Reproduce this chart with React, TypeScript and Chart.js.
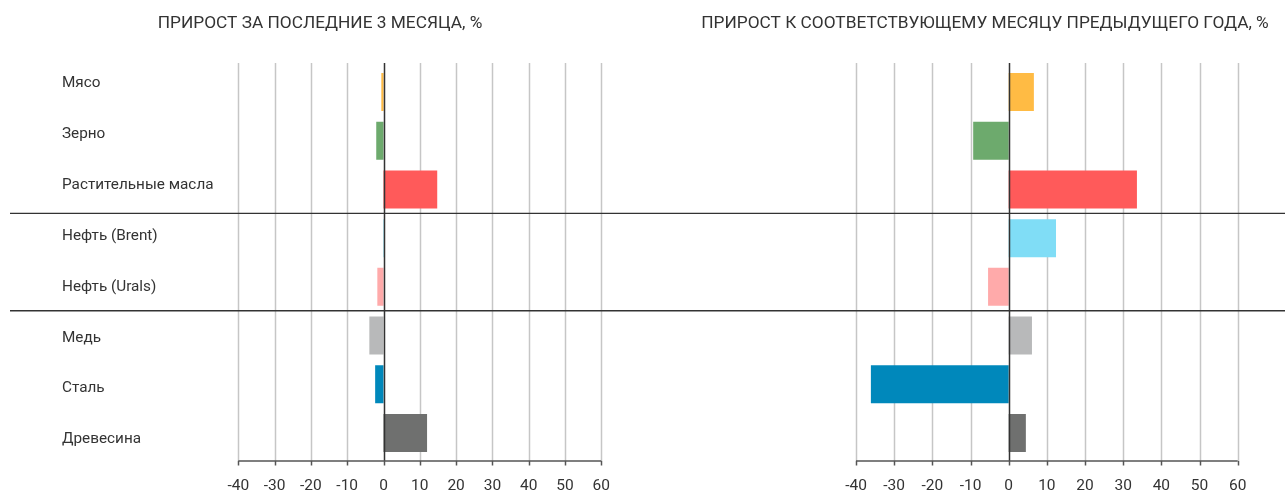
import React, { useEffect, useRef } from 'react';
import { Chart, registerables } from 'chart.js';

Chart.register(...registerables);

const categories = [
  'Мясо',
  'Зерно',
  'Растительные масла',
  'Нефть (Brent)',
  'Нефть (Urals)',
  'Медь',
  'Сталь',
  'Древесина',
];
const threeMonthGrowth = [-0.6, -2.0, 14.8, 0.4, -1.7, -3.9, -2.3, 12.0];
const yearOverYearGrowth = [6.6, -9.3, 33.6, 12.4, -5.4, 6.1, -36.1, 4.5];
const barColors = ['#FFBB44', '#6DAA6D', '#FF5A5A', '#80DDF6', '#FFAAAA', '#B8B9BA', '#0088BB', '#6F706F'];
const xMin = -40;
const xMax = 60;
const xStep = 10;
const leftTitle = 'ПРИРОСТ ЗА ПОСЛЕДНИЕ 3 МЕСЯЦА, %';
const rightTitle = 'ПРИРОСТ К СООТВЕТСТВУЮЩЕМУ МЕСЯЦУ ПРЕДЫДУЩЕГО ГОДА, %';
const groupBreaks = [2, 4];

const FONT = 'Roboto, "Noto Sans", sans-serif';
const TEXT = '#333333';
const W = 1285;
const H = 493;
const LABEL_MIN = -0.313;
const LABEL_MAX = 7.352;

type PanelCfg = {
  left: number;
  width: number;
  values: number[];
  title: string;
  titleX: number;
  showLabels: boolean;
  padLeft: number;
  padRight: number;
  sepStart: number;
};

const decorPlugin = {
  id: 'decor',
  beforeDatasetsDraw(chart: any) {
    const { ctx, chartArea, scales } = chart;
    const x = scales.x;
    const top = chartArea.top - 4.5;
    const bottom = chartArea.bottom + 3.6;
    ctx.save();
    ctx.strokeStyle = '#C6C6C6';
    ctx.lineWidth = 1.5;
    x.ticks.forEach((t: any) => {
      if (t.value === 0) return;
      const px = Math.round(x.getPixelForValue(t.value)) + 0.5;
      ctx.beginPath();
      ctx.moveTo(px, top);
      ctx.lineTo(px, bottom);
      ctx.stroke();
    });
    ctx.restore();
  },
  afterDatasetsDraw(chart: any, _args: any, opts: any) {
    const { ctx, chartArea, scales, width } = chart;
    const x = scales.x;
    const y = scales.y;
    const top = chartArea.top - 4.5;
    const bottom = chartArea.bottom + 3.6;
    ctx.save();
    ctx.strokeStyle = '#333333';
    ctx.lineWidth = 1.5;
    const zx = Math.round(x.getPixelForValue(0)) + 0.5;
    ctx.beginPath();
    ctx.moveTo(zx, top);
    ctx.lineTo(zx, bottom);
    ctx.stroke();
    ctx.strokeStyle = '#555555';
    ctx.beginPath();
    ctx.moveTo(x.getPixelForValue(xMin), bottom);
    ctx.lineTo(x.getPixelForValue(xMax), bottom);
    ctx.stroke();
    x.ticks.forEach((t: any) => {
      const px = Math.round(x.getPixelForValue(t.value)) + 0.5;
      ctx.beginPath();
      ctx.moveTo(px, bottom);
      ctx.lineTo(px, bottom + 4.5);
      ctx.stroke();
    });
    ctx.strokeStyle = '#333333';
    ctx.lineWidth = 1.3;
    groupBreaks.forEach((i) => {
      const sy = (y.getPixelForValue(i) + y.getPixelForValue(i + 1)) / 2 - 0.5;
      ctx.beginPath();
      ctx.moveTo(opts.sepStart, sy);
      ctx.lineTo(width, sy);
      ctx.stroke();
    });
    ctx.fillStyle = TEXT;
    ctx.font = `17.3px ${FONT}`;
    ctx.textAlign = 'center';
    ctx.textBaseline = 'alphabetic';
    ctx.fillText(opts.title, opts.titleX, 28);
    ctx.restore();
  },
};

function Panel({ cfg }: { cfg: PanelCfg }) {
  const ref = useRef<HTMLCanvasElement | null>(null);
  useEffect(() => {
    if (!ref.current) return;
    const scalesCfg: any = {
      x: {
        type: 'linear',
        min: xMin,
        max: xMax,
        grid: { display: false },
        border: { display: false },
        ticks: {
          stepSize: xStep,
          color: TEXT,
          font: { family: FONT, size: 15.5 },
          padding: 11,
        },
        afterFit: (axis: any) => {
          axis.height = 35.6;
        },
      },
      y: {
        type: 'category',
        labels: categories,
        display: false,
        grid: { display: false },
      },
    };
    if (cfg.showLabels) {
      scalesCfg.yLabels = {
        type: 'linear',
        position: 'left',
        reverse: true,
        offset: false,
        bounds: 'data',
        min: LABEL_MIN,
        max: LABEL_MAX,
        grid: { display: false, offset: false },
        border: { display: false },
        afterDataLimits: (axis: any) => {
          axis.min = LABEL_MIN;
          axis.max = LABEL_MAX;
        },
        afterBuildTicks: (axis: any) => {
          axis.ticks = categories.map((_, i) => ({ value: i }));
        },
        afterFit: (axis: any) => {
          axis.width = 176.3;
        },
        ticks: {
          crossAlign: 'far',
          padding: 0,
          color: TEXT,
          font: { family: FONT, size: 15.3 },
          callback: (v: any) => categories[Math.round(Number(v))] ?? '',
        },
      };
    }
    const chart = new Chart(ref.current, {
      type: 'bar',
      data: {
        labels: categories,
        datasets: [
          {
            data: cfg.values,
            backgroundColor: barColors,
            borderWidth: 0,
            barPercentage: 0.78,
            categoryPercentage: 1,
            yAxisID: 'y',
            xAxisID: 'x',
          },
        ],
      },
      options: {
        indexAxis: 'y',
        animation: false,
        responsive: false,
        devicePixelRatio: 1,
        layout: {
          padding: { left: cfg.padLeft, right: cfg.padRight, top: 67.6, bottom: 0 },
        },
        plugins: {
          legend: { display: false },
          tooltip: { enabled: false },
          title: { display: false },
          decor: { title: cfg.title, titleX: cfg.titleX, sepStart: cfg.sepStart },
        } as any,
        scales: scalesCfg,
      },
      plugins: [decorPlugin],
    });
    return () => chart.destroy();
  }, []);
  return (
    <canvas
      ref={ref}
      width={cfg.width}
      height={H}
      style={{ position: 'absolute', left: cfg.left, top: 0, width: cfg.width, height: H }}
    />
  );
}

const leftPanel: PanelCfg = {
  left: 0,
  width: 642,
  values: threeMonthGrowth,
  title: leftTitle,
  titleX: 320,
  showLabels: true,
  padLeft: 62,
  padRight: 40.7,
  sepStart: 10,
};
const rightPanel: PanelCfg = {
  left: 642,
  width: 643,
  values: yearOverYearGrowth,
  title: rightTitle,
  titleX: 985 - 642,
  showLabels: false,
  padLeft: 214,
  padRight: 47.3,
  sepStart: 0,
};

export default function App() {
  return (
    <div style={{ position: 'absolute', left: 0, top: 0, width: W, height: H, background: '#fff', overflow: 'hidden' }}>
      <Panel cfg={leftPanel} />
      <Panel cfg={rightPanel} />
    </div>
  );
}
